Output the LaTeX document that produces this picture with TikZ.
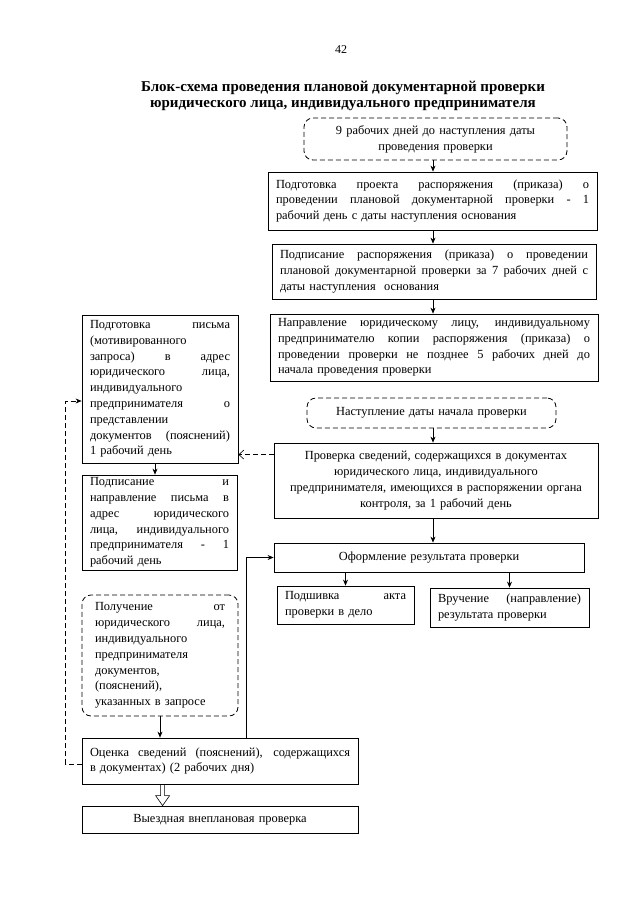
\documentclass[tikz,border=0pt]{standalone}
\usepackage{fontspec}
\setmainfont{Liberation Serif}
\usetikzlibrary{arrows.meta}
\newcommand\jl[1]{\makebox[\linewidth][s]{\spaceskip=0.25em plus 1fil #1}\\}
\setlength\parindent{0pt}
\begin{document}
\begin{tikzpicture}[x=1pt,y=-1pt,
  box/.style={draw,line width=0.8pt,inner xsep=8pt,inner ysep=2pt,font=\fontsize{12.4}{15.8}\selectfont},
  dbox/.style={box,dash pattern=on 5pt off 3pt,rounded corners=9pt},
  arr/.style={line width=0.6pt,-{Stealth[length=6pt,width=5pt]}},
  darr/.style={line width=0.6pt,dash pattern=on 5pt off 3pt,-{Straight Barb[length=5pt,width=9pt]}}]
\useasboundingbox (0,0) rectangle (640,905);
\node[font=\fontsize{12}{14}\selectfont] (page) at (341,50) {42};
\node[font=\fontsize{15}{16}\selectfont\bfseries,align=center] (title) at (343,96)
  {Блок-схема проведения плановой документарной проверки\\юридического лица, индивидуального предпринимателя};
\node[dbox,minimum width=263pt,minimum height=42pt,text width=247pt,align=center] (start) at (435.5,139)
  {9 рабочих дней до наступления даты\\проведения проверки};
\node[box,minimum width=329pt,minimum height=58pt,text width=313pt,align=left] (prep) at (432.5,201)
  {\jl{Подготовка проекта распоряжения (приказа) о}\jl{проведении плановой документарной проверки - 1}рабочий день с даты наступления основания};
\node[box,minimum width=324pt,minimum height=55pt,text width=308pt,align=left] (sign) at (434,271.5)
  {\jl{Подписание распоряжения (приказа) о проведении}\jl{плановой документарной проверки за 7 рабочих дней с}даты наступления\ \ основания};
\node[box,minimum width=328pt,minimum height=67pt,text width=312pt,align=left] (send) at (434,347.5)
  {\jl{Направление юридическому лицу, индивидуальному}\jl{предпринимателю копии распоряжения (приказа) о}\jl{проведении проверки не позднее 5 рабочих дней до}начала проведения проверки};
\node[dbox,minimum width=249pt,minimum height=30pt,text width=233pt,align=center] (begin) at (431.5,413)
  {Наступление даты начала проверки};
\node[box,minimum width=324pt,minimum height=75pt,text width=308pt,align=center] (check) at (436,480.5)
  {Проверка сведений, содержащихся в документах\\юридического лица, индивидуального\\предпринимателя, имеющихся в распоряжении органа\\контроля, за 1 рабочий день};
\node[box,minimum width=156pt,minimum height=148pt,text width=140pt,align=left] (letter) at (160,389)
  {\jl{Подготовка письма}(мотивированного\\\jl{запроса) в адрес}\jl{юридического лица,}индивидуального\\\jl{предпринимателя о}представлении\\\jl{документов (пояснений)}1 рабочий день};
\node[box,minimum width=155pt,minimum height=95pt,text width=139pt,align=left] (post) at (159.5,522.5)
  {\jl{Подписание и}\jl{направление письма в}\jl{адрес юридического}\jl{лица, индивидуального}\jl{предпринимателя - 1}рабочий день};
\node[dbox,minimum width=156pt,minimum height=121pt,inner xsep=13pt,text width=130pt,align=left] (recv) at (160,655.5)
  {\jl{Получение от}\jl{юридического лица,}индивидуального\\предпринимателя\\документов,\\(пояснений),\\указанных в запросе};
\node[box,minimum width=276pt,minimum height=46pt,text width=260pt,align=left] (eval) at (220,761)
  {\jl{Оценка сведений (пояснений), содержащихся}в документах) (2 рабочих дня)};
\node[box,minimum width=276pt,minimum height=27pt,text width=260pt,align=center] (site) at (220,819.5)
  {Выездная внеплановая проверка};
\node[box,minimum width=310pt,minimum height=29pt,text width=294pt,align=center] (result) at (429,557.5)
  {Оформление результата проверки};
\node[box,minimum width=137pt,minimum height=38pt,text width=121pt,align=left] (file) at (345.5,605)
  {\jl{Подшивка акта}проверки в дело};
\node[box,minimum width=159pt,minimum height=39pt,text width=143pt,align=left] (hand) at (509.5,607.5)
  {\jl{Вручение (направление)}результата проверки};
\draw[arr] (start.south -| 433,0) -- (prep.north -| 433,0);
\draw[arr] (prep.south -| 433,0) -- (sign.north -| 433,0);
\draw[arr] (sign.south -| 433,0) -- (send.north -| 433,0);
\draw[arr] (begin.south -| 433,0) -- (check.north -| 433,0);
\draw[arr] (check.south -| 433,0) -- (result.north -| 433,0);
\draw[darr] ([yshift=-12pt]check.north west) -- ([yshift=-12pt]check.north west -| letter.east);
\draw[arr] (letter.south -| 155,0) -- (post.north -| 155,0);
\draw[arr] (recv.south) -- (recv.south |- eval.north);
\coordinate (dtop) at ([xshift=81pt]eval.south west);
\coordinate (dtip) at ([xshift=81pt]site.north west);
\draw[line width=0.6pt,line join=miter] ([xshift=-2pt]dtop) -- ([xshift=-2pt,yshift=10pt]dtip) -- ([xshift=-7pt,yshift=10pt]dtip)
  -- (dtip) -- ([xshift=7pt,yshift=10pt]dtip) -- ([xshift=2pt,yshift=10pt]dtip) -- ([xshift=2pt]dtop);
\draw[arr] ([xshift=165pt]eval.north west) |- (result.west);
\draw[darr,-{Stealth[length=6pt,width=5pt]}] ([yshift=-3pt]eval.west) -- ++(-16,0) |- ([yshift=-12pt]letter.west);
\draw[arr] (file.north |- result.south) -- (file.north);
\draw[arr] (hand.north |- result.south) -- (hand.north);
\end{tikzpicture}
\end{document}
